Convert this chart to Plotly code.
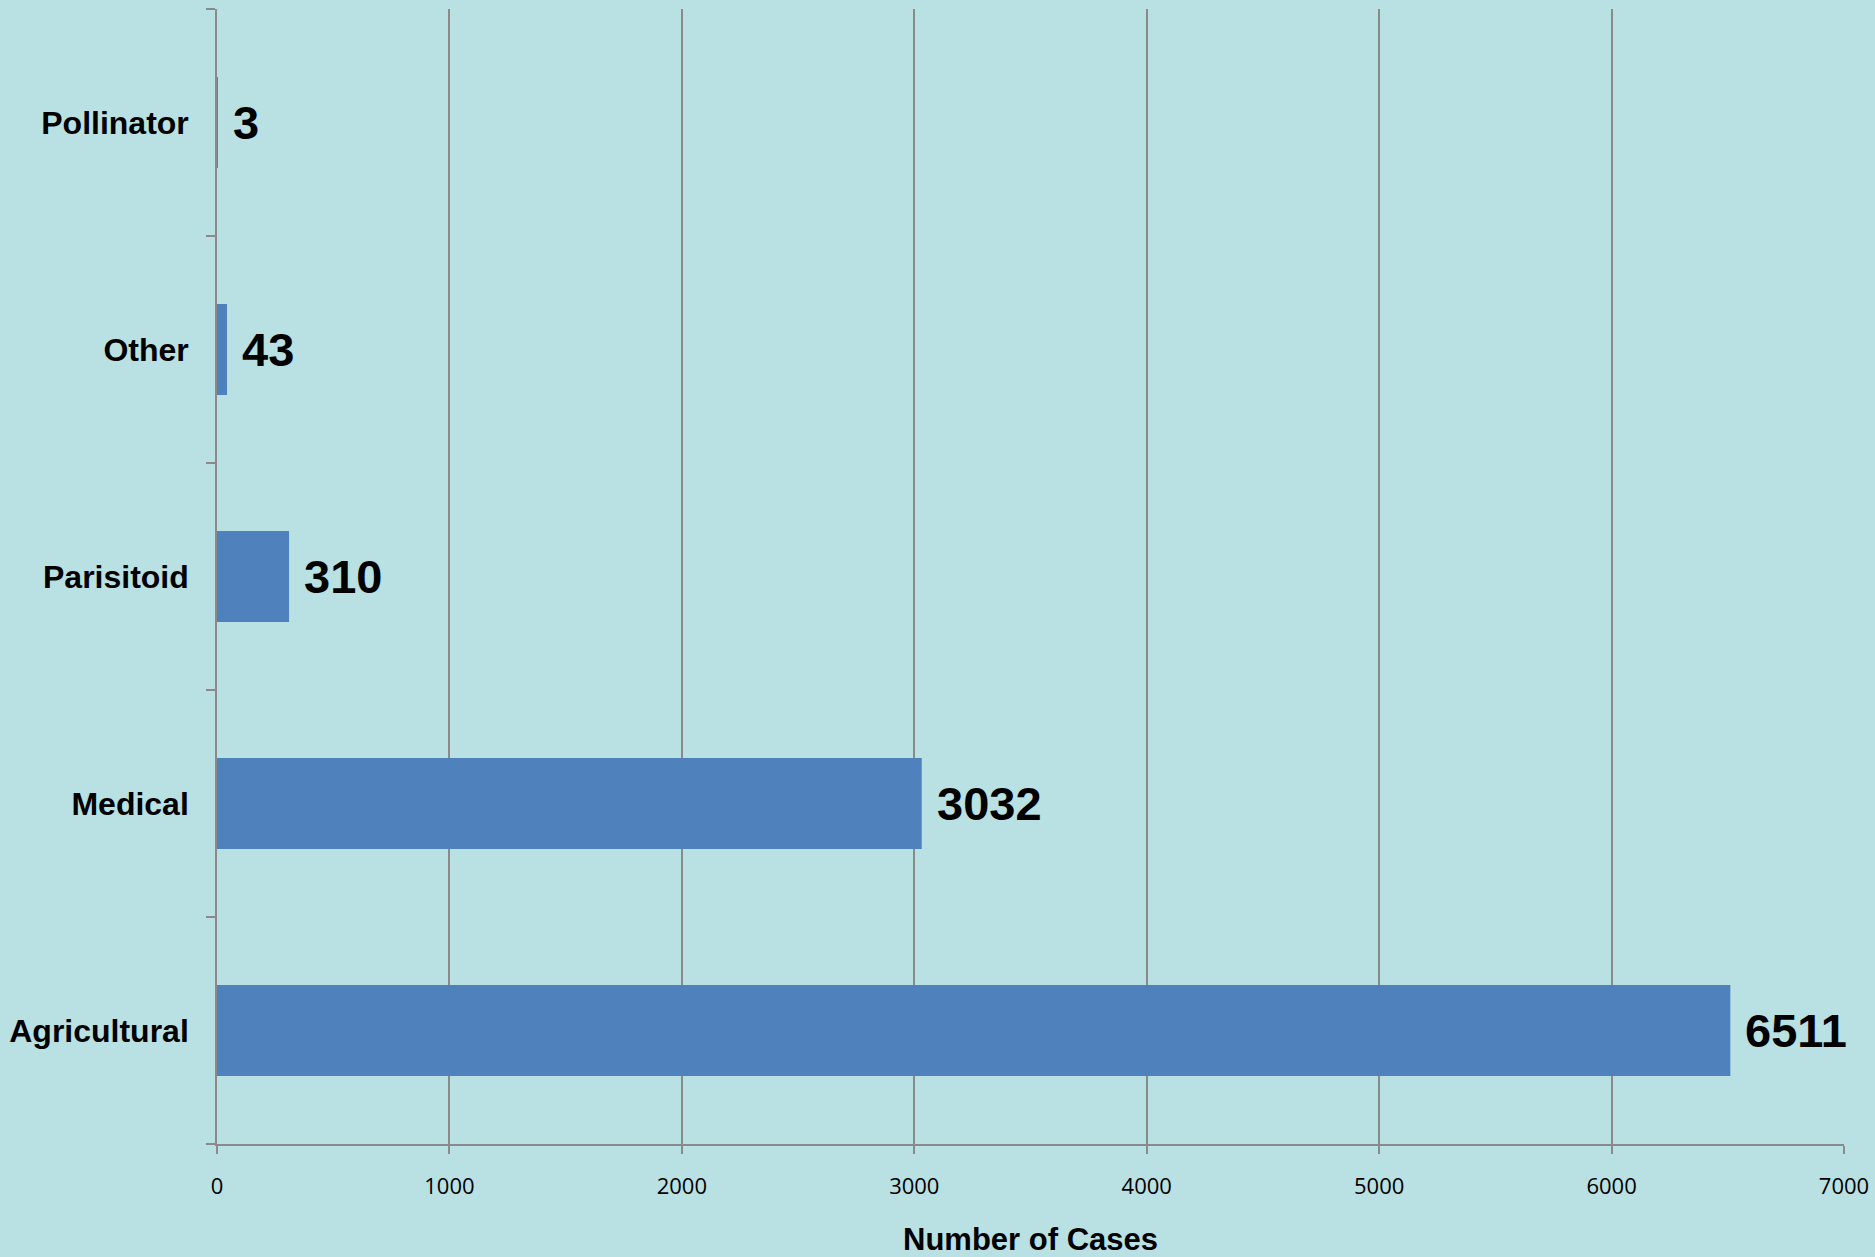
import plotly.graph_objects as go

# Cases by category (bottom to top)
categories = ["Agricultural", "Medical", "Parisitoid", "Other", "Pollinator"]
cases = [6511, 3032, 310, 43, 3]

x_ticks = [0, 1000, 2000, 3000, 4000, 5000, 6000, 7000]

BG = "#B9E0E3"
BAR = "#4F81BD"
GRID = "#8A8A8A"

fig = go.Figure()
fig.add_trace(go.Bar(
    x=cases,
    y=categories,
    orientation="h",
    marker=dict(color=BAR, line=dict(width=0)),
    showlegend=False,
    hoverinfo="x+y",
))

# value labels just past the end of each bar
for cat, val in zip(categories, cases):
    fig.add_annotation(
        x=val, y=cat, xref="x", yref="y",
        text=f"<b>{val}</b>", showarrow=False,
        xanchor="left", yanchor="middle", xshift=13,
        font=dict(family="Liberation Sans, Arial", size=47, color="#000000"),
    )

fig.update_layout(
    width=1875, height=1257,
    margin=dict(l=217, r=31, t=9, b=113),
    paper_bgcolor=BG, plot_bgcolor=BG,
    bargap=0.6,
)

fig.update_xaxes(
    range=[0, 7000],
    automargin=False,
    tickvals=x_ticks,
    ticktext=[str(v) for v in x_ticks],
    showgrid=True, gridcolor=GRID, gridwidth=1.6,
    showline=True, linecolor=GRID, linewidth=1.6,
    ticks="outside", ticklen=8, tickcolor=GRID, tickwidth=1.6,
    tickfont=dict(family="Open Sans", size=22, color="#000000"),
    ticklabelstandoff=14,
    zeroline=False,
    title=dict(text="<b>Number of Cases</b>",
               font=dict(family="Liberation Sans, Arial", size=31, color="#000000"),
               standoff=30),
)

fig.update_yaxes(
    categoryorder="array", categoryarray=categories,
    automargin=False,
    showgrid=False,
    showline=True, linecolor=GRID, linewidth=1.6,
    ticks="outside", ticklen=9, tickcolor=GRID, tickwidth=1.6,
    tickson="boundaries",
    tickfont=dict(family="Liberation Sans, Arial", size=32, color="#000000"),
    ticklabelstandoff=20,
    tickprefix="<b>", ticksuffix="</b>",
)

fig.write_html("out.html")
